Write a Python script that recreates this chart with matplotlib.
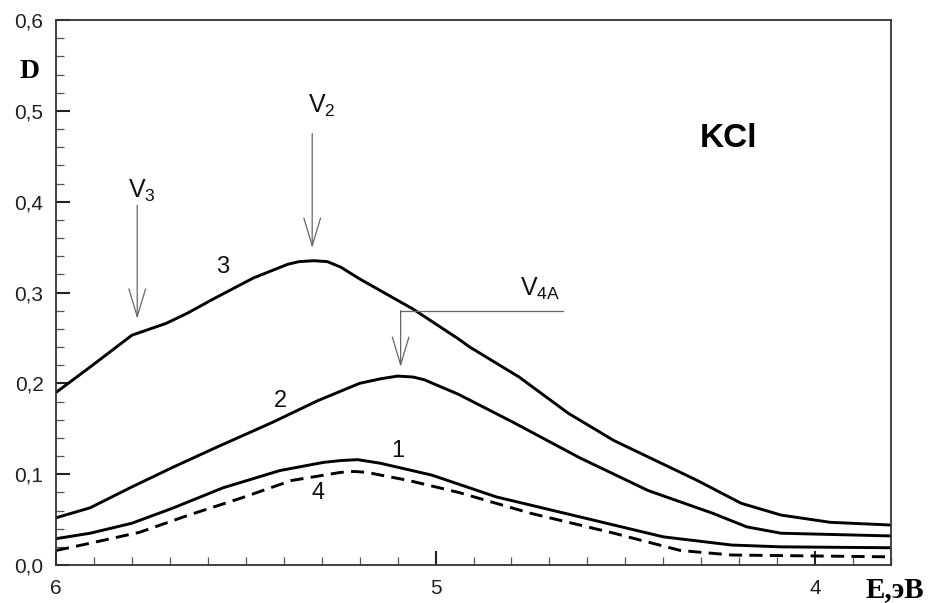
import numpy as np
import matplotlib
matplotlib.use("Agg")
import matplotlib.pyplot as plt
from matplotlib.ticker import MultipleLocator, FixedLocator

plt.rcParams['font.family'] = ['Liberation Sans', 'DejaVu Sans']
plt.rcParams['mathtext.fontset'] = 'custom'
plt.rcParams['mathtext.rm'] = 'Liberation Sans'

# photon energy, eV (axis runs from 6 down to 3.8)
e3 = [6.00, 5.91, 5.80, 5.71, 5.655, 5.585, 5.48, 5.39, 5.36, 5.32, 5.285, 5.25, 5.20, 5.145,
      5.09, 5.06, 4.94, 4.91, 4.78, 4.65, 4.53, 4.44, 4.31, 4.195, 4.09, 3.96, 3.80]
d3 = [0.190, 0.218, 0.253, 0.266, 0.277, 0.293, 0.316, 0.331, 0.334, 0.335, 0.334, 0.328, 0.315, 0.302,
      0.289, 0.282, 0.249, 0.240, 0.207, 0.167, 0.137, 0.119, 0.093, 0.068, 0.055, 0.047, 0.044]

e2 = [6.00, 5.91, 5.80, 5.69, 5.575, 5.43, 5.31, 5.20, 5.145, 5.10, 5.06, 5.03, 4.94,
      4.795, 4.62, 4.44, 4.27, 4.18, 4.09, 3.80]
d2 = [0.052, 0.063, 0.086, 0.108, 0.130, 0.157, 0.181, 0.200, 0.205, 0.208, 0.207, 0.204, 0.188,
      0.157, 0.118, 0.082, 0.057, 0.042, 0.035, 0.032]

e1 = [6.00, 5.91, 5.80, 5.69, 5.56, 5.41, 5.295, 5.25, 5.205, 5.145, 5.01, 4.84, 4.62,
      4.40, 4.22, 4.09, 3.80]
d1 = [0.029, 0.035, 0.046, 0.063, 0.085, 0.104, 0.113, 0.115, 0.116, 0.112, 0.099, 0.075, 0.053,
      0.031, 0.022, 0.020, 0.019]

e4 = [6.00, 5.91, 5.78, 5.65, 5.51, 5.38, 5.25, 5.215, 5.18, 5.145, 5.07, 4.94, 4.75,
      4.53, 4.355, 4.22, 3.80]
d4 = [0.016, 0.024, 0.036, 0.055, 0.074, 0.093, 0.102, 0.103, 0.102, 0.099, 0.093, 0.080, 0.057,
      0.035, 0.016, 0.011, 0.009]

ytick_vals = [0.0, 0.1, 0.2, 0.3, 0.4, 0.5, 0.6]
ytick_text = ['0,0', '0,1', '0,2', '0,3', '0,4', '0,5', '0,6']
xtick_vals = [6, 5, 4]
xtick_text = ['6', '5', '4']

fig = plt.figure(figsize=(9.32, 6.03), dpi=100)
ax = fig.add_axes([0.0601, 0.063, 0.8959, 0.9038])

lw = 2.1
ax.plot(e3, d3, color='black', lw=lw)
ax.plot(e2, d2, color='black', lw=lw)
ax.plot(e1, d1, color='black', lw=lw)
ax.plot(e4, d4, color='black', lw=lw, linestyle=(0, (4.5, 2.5)))

ax.set_xlim(6, 3.8)
ax.set_ylim(0, 0.6)

ax.xaxis.set_major_locator(FixedLocator(xtick_vals))
ax.set_xticklabels(xtick_text)
ax.xaxis.set_minor_locator(MultipleLocator(0.1))
ax.yaxis.set_major_locator(FixedLocator(ytick_vals))
ax.set_yticklabels(ytick_text)
ax.yaxis.set_minor_locator(MultipleLocator(0.02))

ax.tick_params(which='major', direction='in', length=10, width=1.5, color='#222',
               labelsize=15, labelcolor='#222')
ax.tick_params(which='minor', direction='in', length=6, width=0.9, color='#555')
ax.tick_params(axis='x', which='major', pad=10)
ax.tick_params(axis='y', which='major', pad=9)
ax.tick_params(top=False, right=False, which='both')
for s in ax.spines.values():
    s.set_color('#333')
    s.set_linewidth(1.3)

# curve numbers
lab_font = dict(fontsize=17, color='#111', ha='center', va='center')
ax.text(5.56, 0.328, '3', **lab_font)
ax.text(5.41, 0.181, '2', **lab_font)
ax.text(5.10, 0.126, '1', **lab_font)
ax.text(5.31, 0.079, '4', **lab_font)

# defect band arrows
arr = dict(arrowstyle='->,head_length=1.0,head_width=0.3', color='#666', lw=0.9,
           mutation_scale=20, shrinkA=0, shrinkB=0)
ax.annotate('', xy=(5.786, 0.271), xytext=(5.786, 0.396), arrowprops=arr)
ax.annotate('', xy=(5.325, 0.349), xytext=(5.325, 0.475), arrowprops=arr)
ax.plot([4.665, 5.092], [0.280, 0.280], color='#666', lw=0.9)
ax.annotate('', xy=(5.092, 0.218), xytext=(5.092, 0.280), arrowprops=arr)

v_font = dict(fontsize=18, color='#111', ha='center', va='center')
ax.text(5.775, 0.412, r'V$_\mathregular{3}$', **v_font)
ax.text(5.30, 0.505, r'V$_\mathregular{2}$', **v_font)
ax.text(4.725, 0.304, r'V$_\mathregular{4A}$', **v_font)

ax.text(4.227, 0.470, 'KCl', fontsize=24, fontweight='bold', ha='center', va='center')

fig.text(30 / 932, 1 - 72 / 603, 'D', fontsize=20, fontweight='bold',
         family='Liberation Serif', ha='center', va='center')
fig.text(895 / 932, 1 - 590 / 603, 'E,эВ', fontsize=21, fontweight='bold',
         family='Liberation Serif', ha='center', va='center')

fig.savefig('out.png', dpi=100)
